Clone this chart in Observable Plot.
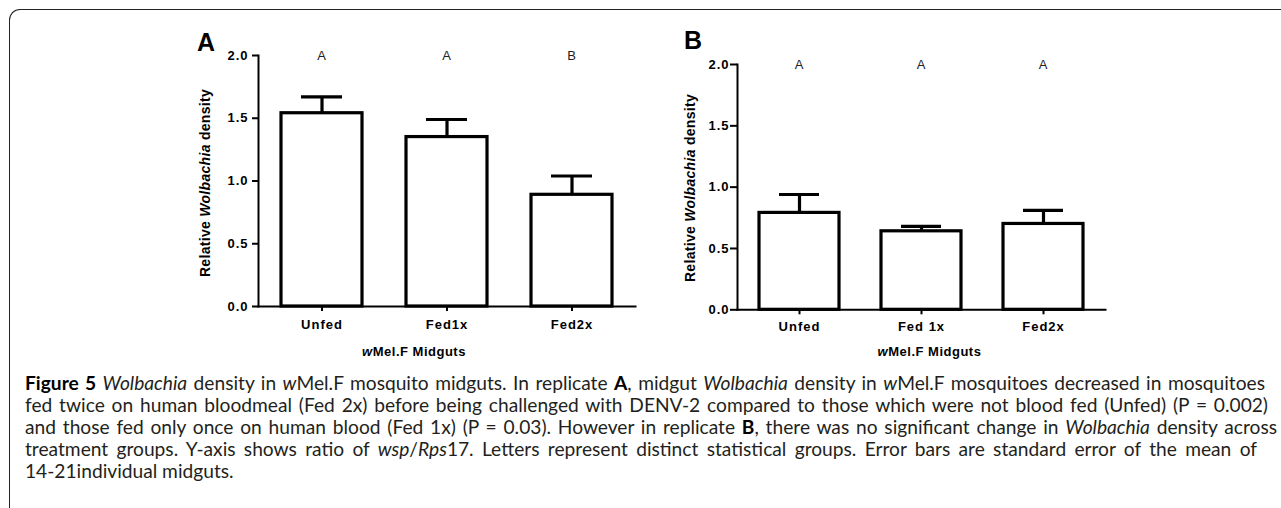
<!DOCTYPE html>
<html>
<head>
<meta charset="utf-8">
<script src="https://cdn.jsdelivr.net/npm/d3@7"></script>
<script src="https://cdn.jsdelivr.net/npm/@observablehq/plot@0.6"></script>
<style>
  html, body { margin: 0; padding: 0; background: #fff; }
  #page { position: relative; width: 1281px; height: 508px; overflow: hidden; background: #fff; }
  .frame { position: absolute; left: 9px; top: 9px; width: 1400px; height: 600px;
           border-left: 1.6px solid #222; border-top: 1.6px solid #222; border-top-left-radius: 11px; }
  .abs { position: absolute; white-space: nowrap; line-height: 1; }
  .plab { font-family: "Liberation Sans", Arial, sans-serif; font-weight: bold; font-size: 25px; color: #000; }
  .ylab { font-family: "Liberation Sans", Arial, sans-serif; font-weight: bold; font-size: 14px; letter-spacing: 0.3px; color: #000;
          transform: translate(-50%, -50%) rotate(-90deg); }
  .xlab { font-family: "Liberation Sans", Arial, sans-serif; font-weight: bold; font-size: 13px; letter-spacing: 0.5px; color: #000;
          transform: translate(-50%, -50%); }
  #caption { position: absolute; left: 25px; top: 372px;
             font-family: Lato, "Open Sans", sans-serif; font-size: 16px; line-height: 22px; color: #231f20; }
  #caption .ln { white-space: nowrap; text-align: justify; text-align-last: justify; }
  #caption .ln.last { text-align-last: left; }
  #caption b { color: #000; }
</style>
</head>
<body>
<div id="page">
  <div class="frame"></div>
  <div id="chartA" style="position:absolute;left:150px;top:20px"></div>
  <div id="chartB" style="position:absolute;left:660px;top:20px"></div>
  <div class="abs plab" style="left:197px;top:29.5px">A</div>
  <div class="abs plab" style="left:684px;top:28px">B</div>
  <div class="abs ylab" style="left:205px;top:183px">Relative <i>Wolbachia</i> density</div>
  <div class="abs ylab" style="left:690px;top:188px">Relative <i>Wolbachia</i> density</div>
  <div class="abs xlab" style="left:414px;top:351px"><i>w</i>Mel.F Midguts</div>
  <div class="abs xlab" style="left:929.5px;top:351px"><i>w</i>Mel.F Midguts</div>
  <div id="caption">
    <div class="ln" data-w="1240"><b>Figure 5</b> <i>Wolbachia</i> density in <i>w</i>Mel.F mosquito midguts. In replicate <b>A</b>, midgut <i>Wolbachia</i> density in <i>w</i>Mel.F mosquitoes decreased in mosquitoes</div>
    <div class="ln" data-w="1243">fed twice on human bloodmeal (Fed 2x) before being challenged with DENV-2 compared to those which were not blood fed (Unfed) (P = 0.002)</div>
    <div class="ln" data-w="1252">and those fed only once on human blood (Fed 1x) (P = 0.03). However in replicate <b>B</b>, there was no significant change in <i>Wolbachia</i> density across</div>
    <div class="ln" data-w="1232">treatment groups. Y-axis shows ratio of <i>wsp</i>/<i>Rps</i>17. Letters represent distinct statistical groups. Error bars are standard error of the mean of</div>
    <div class="ln last">14-21individual midguts.</div>
  </div>
</div>
<script>
// ---- data ----
const categoriesA = ["Unfed", "Fed1x", "Fed2x"];
const meansA = [1.54, 1.35, 0.89];
const semA = [0.13, 0.14, 0.15];
const groupsA = ["A", "A", "B"];

const categoriesB = ["Unfed", "Fed 1x", "Fed2x"];
const meansB = [0.79, 0.64, 0.70];
const semB = [0.15, 0.04, 0.11];
const groupsB = ["A", "A", "A"];

const yTicks = [0, 0.5, 1.0, 1.5, 2.0];
const yMax = 2.0;

function makeTable(cats, means, sems, groups) {
  return cats.map((c, i) => ({cat: c, mean: means[i], hi: means[i] + sems[i], grp: groups[i]}));
}

function panel(table, cats, o) {
  return Plot.plot({
    width: o.width, height: o.height,
    marginLeft: o.ml, marginRight: o.mr, marginTop: o.mt, marginBottom: o.mb,
    style: {background: "transparent", fontFamily: '"Liberation Sans", Arial, sans-serif',
            fontSize: "13px", fontWeight: "bold", letterSpacing: "1px", color: "#000", overflow: "visible"},
    x: {domain: cats, paddingInner: o.pi, paddingOuter: o.po, label: null},
    y: {domain: [0, yMax], label: null},
    marks: [
      Plot.barY(table, {x: "cat", y: "mean", fill: "white", stroke: "black", strokeWidth: 3.2}),
      Plot.ruleX(table, {x: "cat", y1: "mean", y2: "hi", stroke: "black", strokeWidth: 3.2}),
      Plot.tickY(table, {x: "cat", y: "hi", stroke: "black", strokeWidth: 3.2, insetLeft: o.cap, insetRight: o.cap}),
      Plot.text(table, {x: "cat", y: () => yMax, text: "grp", fontWeight: "normal", fontSize: 13, fill: "#222"}),
      Plot.axisY({ticks: yTicks, tickFormat: d3.format(".1f"), tickSize: o.ts, tickPadding: o.tp, strokeWidth: 2, label: null}),
      Plot.axisX({tickSize: 5, tickPadding: o.xp, strokeWidth: 2, label: null}),
      Plot.frame({anchor: "left", strokeWidth: 2}),
      Plot.frame({anchor: "bottom", strokeWidth: 2})
    ]
  });
}

const tableA = makeTable(categoriesA, meansA, semA, groupsA);
const tableB = makeTable(categoriesB, meansB, semB, groupsB);

document.getElementById("chartA").append(panel(tableA, categoriesA, {
  width: 500, height: 350, ml: 108, mr: 15, mt: 35, mb: 64,
  pi: 0.35, po: 0.175, cap: 20, ts: 6, tp: 4, xp: 8
}));
document.getElementById("chartB").append(panel(tableB, categoriesB, {
  width: 480, height: 350, ml: 77, mr: 35, mt: 44, mb: 60.7,
  pi: 0.343, po: 0.177, cap: 20, ts: 7, tp: 1, xp: 7
}));

// fit caption: pick a font size so every line fits its target width, then justify each line to it
function fitCaption() {
  const cap = document.getElementById("caption");
  const lines = [...cap.querySelectorAll(".ln[data-w]")];
  const base = 16;
  cap.style.fontSize = base + "px";
  let scale = 1.2;
  lines.forEach(l => {
    const s = document.createElement("span");
    s.style.whiteSpace = "nowrap";
    s.style.position = "absolute";
    s.style.visibility = "hidden";
    s.innerHTML = l.innerHTML;
    cap.appendChild(s);
    const w = s.getBoundingClientRect().width;
    s.remove();
    scale = Math.min(scale, (+l.dataset.w) / w);
  });
  cap.style.fontSize = (base * scale - 0.02) + "px";
  lines.forEach(l => { l.style.width = l.dataset.w + "px"; });
}
fitCaption();
if (document.fonts && document.fonts.ready) document.fonts.ready.then(fitCaption);
</script>
</body>
</html>
